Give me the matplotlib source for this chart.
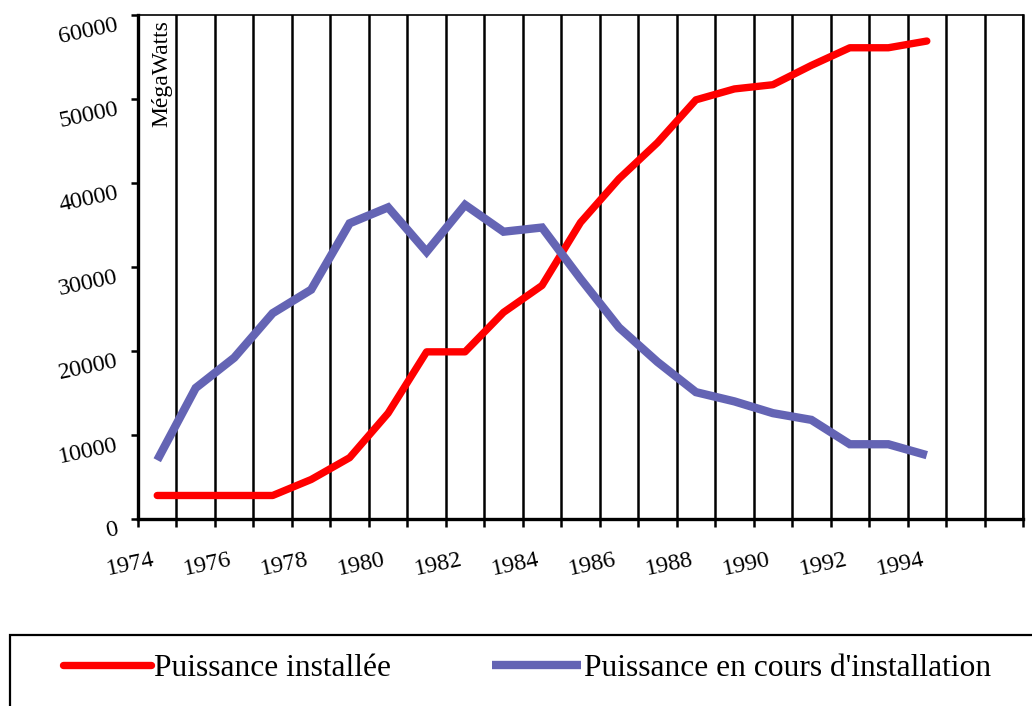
import numpy as np
import matplotlib
matplotlib.use("Agg")
import matplotlib.pyplot as plt
from matplotlib.lines import Line2D
from matplotlib.patches import Rectangle
from matplotlib.transforms import ScaledTranslation

plt.rcParams['font.family'] = ['Liberation Serif', 'DejaVu Serif']

# Years on the category axis (1974..1996), data only up to 1994
years = list(range(1974, 1997))
label_years = [1974, 1976, 1978, 1980, 1982, 1984, 1986, 1988, 1990, 1992, 1994]

# MegaWatts
puissance_installee = [2800, 2800, 2800, 2800, 4700, 7300, 12600, 19900, 19900, 24600,
                       27800, 35300, 40500, 44800, 49900, 51200, 51700, 54000, 56100,
                       56100, 56900]
puissance_en_cours = [7000, 15600, 19200, 24500, 27300, 35200, 37100, 31800, 37400, 34200,
                      34700, 28600, 22800, 18700, 15100, 14000, 12600, 11800, 8900,
                      8900, 7600]

red = '#ff0000'
blue = '#6464b4'

fig = plt.figure(figsize=(10.32, 7.06), dpi=100)
W, H = 1032, 706
ax = fig.add_axes([138 / W, 1 - 519 / H, (1023 - 138) / W, (519 - 15) / H])

x = np.arange(len(puissance_installee)) + 0.5
ax.plot(x, puissance_installee, color=red, lw=5.3,
        solid_capstyle='round', solid_joinstyle='round', zorder=3)
ax.plot(x, puissance_en_cours, color=blue, lw=6,
        solid_capstyle='butt', solid_joinstyle='miter', zorder=3)

ax.set_xlim(0, len(years))
ax.set_ylim(0, 60000)

# category boundaries: ticks + vertical grid
ax.set_xticks(np.arange(0, len(years) + 1))
ax.set_xticklabels([])
ax.tick_params(axis='x', which='major', direction='out', length=6, width=1.8)
ax.grid(axis='x', which='major', color='black', lw=1.8)

# year labels at category centres
ax.set_xticks([i + 0.5 for i, y in enumerate(years) if y in label_years], minor=True)
ax.set_xticklabels([str(y) for y in label_years], minor=True, rotation=12,
                   ha='right', va='top', rotation_mode='anchor', fontsize=17.5)
ax.tick_params(axis='x', which='minor', length=0, pad=22)
shift = ScaledTranslation(-5 / 100, 0, fig.dpi_scale_trans)
for lbl in ax.get_xticklabels(minor=True):
    lbl.set_transform(lbl.get_transform() + shift)

ax.set_yticks(range(0, 60001, 10000))
ax.set_yticklabels([str(v) for v in range(0, 60001, 10000)], rotation=12,
                   ha='right', va='top', rotation_mode='anchor', fontsize=17.5)
ax.tick_params(axis='y', direction='out', length=5, width=1.8, pad=11)

for side in ['left', 'bottom']:
    ax.spines[side].set_linewidth(2.4)
ax.spines['top'].set_linewidth(1.2)
ax.spines['right'].set_linewidth(1.8)

fig.text(162 / W, 1 - 20 / H, 'MégaWatts', rotation=90, ha='center', va='top',
         fontsize=17)

# legend box running off the bottom/right edge
fig.patches.append(Rectangle((10 / W, -0.2), 1.2, (1 - 635 / H) + 0.2, fill=False,
                             edgecolor='black', lw=1.6, transform=fig.transFigure))
handles = [Line2D([], [], color=red, lw=5.3, solid_capstyle='round'),
           Line2D([], [], color=blue, lw=6, solid_capstyle='butt')]
fig.legend(handles, ['Puissance installée', "Puissance en cours d'installation"],
           loc='center left', bbox_to_anchor=(63 / W, 1 - 668 / H), ncol=2,
           frameon=False, fontsize=22.7, handlelength=2.8, handletextpad=0.1,
           columnspacing=3.2, borderpad=0, borderaxespad=0)

fig.savefig('out.png', dpi=100)
